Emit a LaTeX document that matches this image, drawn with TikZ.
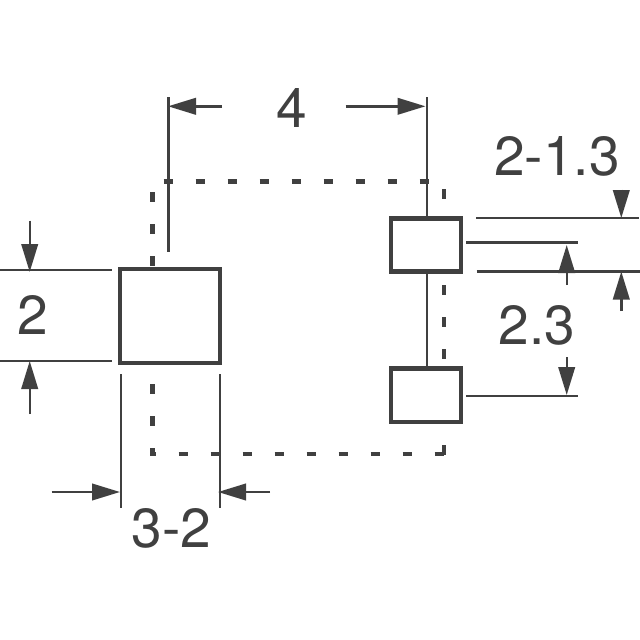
\documentclass[tikz,border=0pt]{standalone}
\usepackage{fontspec}
\setmainfont{TeX Gyre Heros}
\usetikzlibrary{arrows.meta}
\definecolor{ink}{HTML}{404040}
\tikzset{
  x=1pt,y=-1pt,
  every path/.style={color=ink},
  thinline/.style={draw=ink,line width=2.4pt},
  boxnode/.style={draw=ink,fill=white,line width=4.6pt,inner sep=0pt,outer sep=0pt,rectangle},
  dimarrow/.style={draw=ink,line width=2.4pt,-{Triangle[length=28pt,width=16.5pt,fill=ink]},shorten >=-1pt},
  dotline/.style={draw=ink,line width=4.6pt,dash pattern=on 9.5pt off 22.5pt},
  label/.style={text=ink,inner sep=0pt,font=\fontsize{55}{55}\selectfont},
}
\begin{document}
\begin{tikzpicture}
\useasboundingbox (0,0) rectangle (640,640);
% dashed outline
\coordinate (dT1) at (163.5,181.7); \coordinate (dT2) at (430,181.7);
\coordinate (dL1) at (152.3,192.2); \coordinate (dL2) at (152.3,456);
\coordinate (dB1) at (150.2,454); \coordinate (dB2) at (446,454);
\coordinate (dR1) at (444,189.2); \coordinate (dR2) at (444,456);
\draw[dotline] (dT1) -- (dT2);
\draw[dotline] (dL1) -- (dL2);
\draw[dotline,dash phase=3.5pt] (dB1) -- (dB2);
\draw[dotline] (dR1) -- (dR2);
% pads
\node[boxnode,minimum width=100pt,minimum height=94pt] (L) at (170,316) {};
\node[boxnode,minimum width=70pt,minimum height=53pt] (RT) at (426,245) {};
\node[boxnode,minimum width=70pt,minimum height=53.5pt] (RB) at (426,395.2) {};
% extension lines
\coordinate (e4La) at (168.3,97); \coordinate (e4Lb) at (168.3,251.5);
\coordinate (e4Ra) at (426.7,97); \coordinate (e4Rb) at (426.7,216.5);
\coordinate (e4Rc) at (426.7,273); \coordinate (e4Rd) at (426.7,367);
\draw[thinline] (e4La) -- (e4Lb);
\draw[thinline] (e4Ra) -- (e4Rb);
\draw[thinline] (e4Rc) -- (e4Rd);
\coordinate (hLa) at (0,270); \coordinate (hLb) at (112,270);
\coordinate (hLc) at (0,360.7); \coordinate (hLd) at (112,360.7);
\draw[thinline] (hLa) -- (hLb);
\draw[thinline] (hLc) -- (hLd);
\coordinate (vBa) at (120.7,374); \coordinate (vBb) at (120.7,507.5);
\coordinate (vBc) at (220,374); \coordinate (vBd) at (220,507.5);
\draw[thinline] (vBa) -- (vBb);
\draw[thinline] (vBc) -- (vBd);
\coordinate (hRa) at (476,217.7); \coordinate (hRb) at (639,217.7);
\coordinate (hRc) at (466,242.3); \coordinate (hRd) at (578,242.3);
\coordinate (hRe) at (476.7,271.3); \coordinate (hRf) at (640,271.3);
\coordinate (hRg) at (466,395.7); \coordinate (hRh) at (578,395.7);
\draw[thinline] (hRa) -- (hRb);
\draw[thinline] (hRc) -- (hRd);
\draw[thinline] (hRe) -- (hRf);
\draw[thinline] (hRg) -- (hRh);
% dimension arrows
\coordinate (a1s) at (222,106.3); \coordinate (a1e) at (169,106.3);
\coordinate (a2s) at (345.7,106.3); \coordinate (a2e) at (424.5,106.3);
\draw[dimarrow] (a1s) -- (a1e);
\draw[dimarrow] (a2s) -- (a2e);
\coordinate (a3s) at (29.7,220.7); \coordinate (a3e) at (29.7,271);
\coordinate (a4s) at (29.7,414); \coordinate (a4e) at (29.7,362);
\draw[dimarrow] (a3s) -- (a3e);
\draw[dimarrow] (a4s) -- (a4e);
\coordinate (a5s) at (51.7,492); \coordinate (a5e) at (119,492);
\coordinate (a6s) at (270,492); \coordinate (a6e) at (219,492);
\draw[dimarrow] (a5s) -- (a5e);
\draw[dimarrow] (a6s) -- (a6e);
\coordinate (a7s) at (566.7,285); \coordinate (a7e) at (566.7,246);
\coordinate (a8s) at (566.7,357.3); \coordinate (a8e) at (566.7,394);
\draw[dimarrow] (a7s) -- (a7e);
\draw[dimarrow] (a8s) -- (a8e);
\coordinate (a9s) at (621.3,189.5); \coordinate (a9e) at (621.3,217);
\coordinate (a10s) at (621.3,311); \coordinate (a10e) at (621.3,272.5);
\draw[dimarrow] (a9s) -- (a9e);
\draw[dimarrow] (a10s) -- (a10e);
% labels
\node[label] (t4) at (292,107.5) {4};
\node[label] (t2) at (32.7,315) {2};
\node[label] (t32) at (171.3,528) {3-2};
\node[label] (t213) at (557,156.5) {2-1.3};
\node[label] (t23) at (537,325) {2.3};
\end{tikzpicture}
\end{document}
